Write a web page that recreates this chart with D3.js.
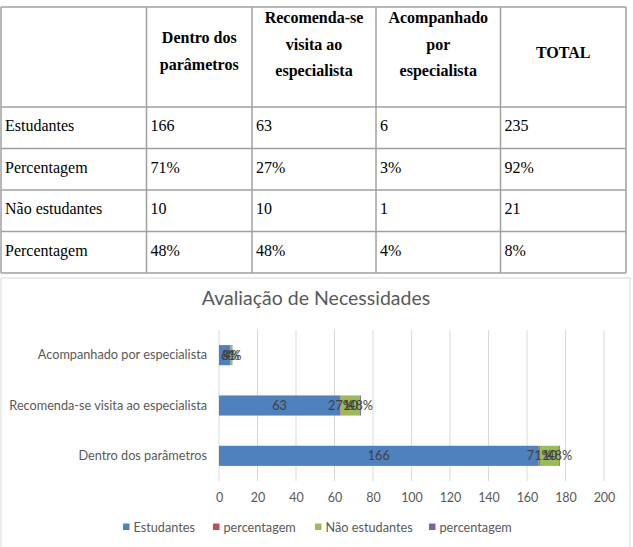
<!DOCTYPE html>
<html>
<head>
<meta charset="utf-8">
<script src="https://cdn.jsdelivr.net/npm/d3@7/dist/d3.min.js"></script>
<style>
  html, body { margin: 0; padding: 0; background: #fff; }
  svg { display: block; }
</style>
</head>
<body>
<svg id="chart" width="633" height="547"></svg>
<script>
// ---------- DATA ----------
const tableHeaders = [["Dentro dos", "parâmetros"], ["Recomenda-se", "visita ao", "especialista"], ["Acompanhado", "por", "especialista"], ["TOTAL"]];
const tableRowLabels = ["Estudantes", "Percentagem", "Não estudantes", "Percentagem"];
const tableRows = [
  ["166", "63", "6", "235"],
  ["71%", "27%", "3%", "92%"],
  ["10", "10", "1", "21"],
  ["48%", "48%", "4%", "8%"]
];

const chartTitle = "Avaliação de Necessidades";
const categories = ["Dentro dos parâmetros", "Recomenda-se visita ao especialista", "Acompanhado por especialista"];
const seriesNames = ["Estudantes", "percentagem", "Não estudantes", "percentagem"];
const estudantes = [166, 63, 6];
const pctEstudantes = [0.71, 0.27, 0.03];
const naoEstudantes = [10, 10, 1];
const pctNaoEstudantes = [0.48, 0.48, 0.04];
const seriesIsPct = [false, true, false, true];
const xTicks = [0, 20, 40, 60, 80, 100, 120, 140, 160, 180, 200];
const seriesColors = ["#4F81BD", "#C0504D", "#9BBB59", "#8064A2"];

// ---------- TABLE ----------
const svg = d3.select("#chart");
const colX = [1, 146.5, 252, 376, 500.5, 626];
const rowY = [7, 107, 148.5, 190, 231.5, 273];
const tbl = svg.append("g");
const serif = "'Liberation Serif', 'Times New Roman', serif";

tbl.selectAll("line.h").data(rowY).join("line")
  .attr("x1", colX[0]).attr("x2", colX[colX.length - 1])
  .attr("y1", d => d).attr("y2", d => d)
  .attr("stroke", "#a0a0a0").attr("stroke-width", 1.5);
tbl.selectAll("line.v").data(colX).join("line")
  .attr("y1", rowY[0]).attr("y2", rowY[rowY.length - 1])
  .attr("x1", d => d).attr("x2", d => d)
  .attr("stroke", "#a0a0a0").attr("stroke-width", 1.5);

const headerBaselines = {2: [43, 70], 3: [23, 49.5, 76]};
tableHeaders.forEach((lines, i) => {
  const cx = (colX[i + 1] + colX[i + 2]) / 2;
  const bl = lines.length === 1 ? [58] : headerBaselines[lines.length];
  lines.forEach((t, j) => {
    tbl.append("text").attr("x", cx).attr("y", bl[j])
      .attr("text-anchor", "middle").attr("font-family", serif)
      .attr("font-weight", "bold").attr("font-size", 16).attr("fill", "#000").text(t);
  });
});

tableRowLabels.forEach((lab, r) => {
  const by = rowY[r + 1] + 24;
  tbl.append("text").attr("x", colX[0] + 4).attr("y", by)
    .attr("font-family", serif).attr("font-size", 16).attr("fill", "#000").text(lab);
  tableRows[r].forEach((v, c) => {
    tbl.append("text").attr("x", colX[c + 1] + 4).attr("y", by)
      .attr("font-family", serif).attr("font-size", 16).attr("fill", "#000").text(v);
  });
});

// ---------- CHART ----------
const sans = "Lato, 'Open Sans', sans-serif";
svg.append("rect").attr("x", 1).attr("y", 278).attr("width", 629).attr("height", 272)
  .attr("fill", "none").attr("stroke", "#d9d9d9").attr("stroke-width", 1);

svg.append("text").attr("x", 316).attr("y", 305).attr("text-anchor", "middle")
  .attr("font-family", sans).attr("font-size", 19.5).attr("fill", "#595959").text(chartTitle);

const plotTop = 330, plotBottom = 481;
const x = d3.scaleLinear().domain([0, 200]).range([219, 604]);
const y = d3.scaleBand().domain(categories.slice().reverse()).range([plotTop, plotBottom]).paddingInner(0.6).paddingOuter(0.3);

const grid = svg.append("g");
grid.selectAll("line").data(xTicks).join("line")
  .attr("x1", d => x(d)).attr("x2", d => x(d))
  .attr("y1", plotTop).attr("y2", plotBottom)
  .attr("stroke", "#d9d9d9").attr("stroke-width", 1);

const xAxis = svg.append("g").attr("transform", `translate(0,${plotBottom})`)
  .call(d3.axisBottom(x).tickValues(xTicks).tickSize(0).tickPadding(12));
xAxis.select(".domain").remove();
xAxis.selectAll("text").attr("font-family", sans).attr("font-size", 12.5).attr("fill", "#595959");

const yAxis = svg.append("g").attr("transform", `translate(${x(0)},0)`)
  .call(d3.axisLeft(y).tickSize(0).tickPadding(12));
yAxis.select(".domain").remove();
yAxis.selectAll("text").attr("font-family", sans).attr("font-size", 12.7).attr("fill", "#595959");

const rows = categories.map((c, i) => ({
  cat: c,
  s0: estudantes[i], s1: pctEstudantes[i], s2: naoEstudantes[i], s3: pctNaoEstudantes[i]
}));
const keys = ["s0", "s1", "s2", "s3"];
const stacked = d3.stack().keys(keys)(rows);

const bars = svg.append("g");
stacked.forEach((layer, si) => {
  bars.append("g").attr("fill", seriesColors[si]).selectAll("rect").data(layer).join("rect")
    .attr("x", d => x(d[0])).attr("width", d => x(d[1]) - x(d[0]))
    .attr("y", d => y(d.data.cat)).attr("height", y.bandwidth());
});
const labels = svg.append("g");
stacked.forEach((layer, si) => {
  labels.selectAll(null).data(layer).join("text")
    .attr("x", d => (x(d[0]) + x(d[1])) / 2)
    .attr("y", d => y(d.data.cat) + y.bandwidth() / 2)
    .attr("dy", "0.35em").attr("text-anchor", "middle")
    .attr("font-family", sans).attr("font-size", 12.7).attr("fill", "#404040")
    .text(d => {
      const v = d.data[keys[si]];
      return seriesIsPct[si] ? Math.round(v * 100) + "%" : v;
    });
});

// ---------- LEGEND ----------
const legendX = [123, 213, 315, 429];
const leg = svg.append("g");
seriesNames.forEach((n, i) => {
  leg.append("rect").attr("x", legendX[i]).attr("y", 523.5).attr("width", 6.5).attr("height", 6.5).attr("fill", seriesColors[i]);
  leg.append("text").attr("x", legendX[i] + 10.5).attr("y", 531.5)
    .attr("font-family", sans).attr("font-size", 12.7).attr("fill", "#595959").text(n);
});
</script>
</body>
</html>
